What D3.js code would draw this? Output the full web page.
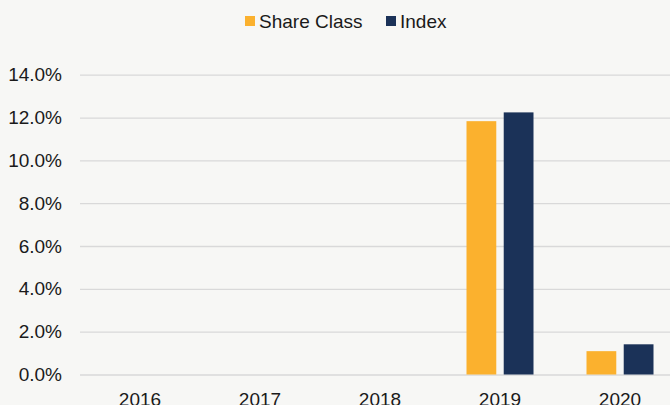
<!DOCTYPE html>
<html lang="en">
<head>
    <meta charset="utf-8">
    <title>Calendar year performance</title>
    <script src="https://cdn.jsdelivr.net/npm/d3@7"></script>
    <style>
        body { margin: 0; background: #f7f7f5; }
        svg { display: block; font-family: "Liberation Sans", Arial, sans-serif; }
        .grid line { stroke: #d9d9d9; stroke-width: 1.3px; }
        .grid path { display: none; }
        .axis path, .axis line { display: none; }
        .axis text { fill: #1a1a1a; font-size: 19px; }
    </style>
</head>
<body>
    <div id="chart"></div>
    <script type="text/javascript">
        var years = ['2016', '2017', '2018', '2019', '2020'];
        var shareClass = [null, null, null, 11.83, 1.09];
        var index = [null, null, null, 12.24, 1.41];
        var yTicks = [0, 2, 4, 6, 8, 10, 12, 14];
        var seriesNames = ['Share Class', 'Index'];
        var seriesColors = ['#fbb12e', '#1b3258'];

        var width = 670, height = 405;
        var plotLeft = 80, plotRight = 680, plotTop = 74.7, plotBottom = 374.5;

        var svg = d3.select('#chart').append('svg')
            .attr('width', width)
            .attr('height', height);

        var x = d3.scaleBand().domain(years).range([plotLeft, plotRight]);
        var y = d3.scaleLinear().domain([0, 14]).range([plotBottom, plotTop]);
        var xInner = d3.scaleBand().domain(seriesNames)
            .range([-33.5, 33.5]).paddingInner(0.2);

        // gridlines
        svg.append('g')
            .attr('class', 'grid')
            .attr('transform', `translate(${plotLeft}, 0)`)
            .call(d3.axisRight(y).tickValues(yTicks).tickSize(plotRight - plotLeft).tickFormat(''));

        // y labels
        svg.append('g')
            .attr('class', 'axis')
            .attr('transform', `translate(68, 0)`)
            .call(d3.axisLeft(y).tickValues(yTicks).tickSize(0).tickPadding(6)
                .tickFormat(d => d.toFixed(1) + '%'));

        // x labels
        svg.append('g')
            .attr('class', 'axis')
            .attr('transform', `translate(0, ${plotBottom})`)
            .call(d3.axisBottom(x).tickSize(0).tickPadding(18));

        var series = [shareClass, index];
        series.forEach(function (vals, s) {
            svg.append('g').selectAll('rect')
                .data(years.map((yr, i) => ({ year: yr, v: vals[i] })).filter(d => d.v != null))
                .enter()
                .append('rect')
                .attr('x', d => x(d.year) + x.bandwidth() / 2 + xInner(seriesNames[s]))
                .attr('width', xInner.bandwidth())
                .attr('y', d => y(d.v))
                .attr('height', d => y(0) - y(d.v))
                .attr('fill', seriesColors[s]);
        });

        // legend
        var legendPos = [245, 386];
        var legend = svg.append('g');
        seriesNames.forEach(function (name, i) {
            legend.append('rect')
                .attr('x', legendPos[i]).attr('y', 16)
                .attr('width', 10).attr('height', 10)
                .attr('fill', seriesColors[i]);
            legend.append('text')
                .attr('x', legendPos[i] + 14).attr('y', 28)
                .attr('font-size', 19).attr('fill', '#1a1a1a')
                .text(name);
        });
    </script>
</body>
</html>
